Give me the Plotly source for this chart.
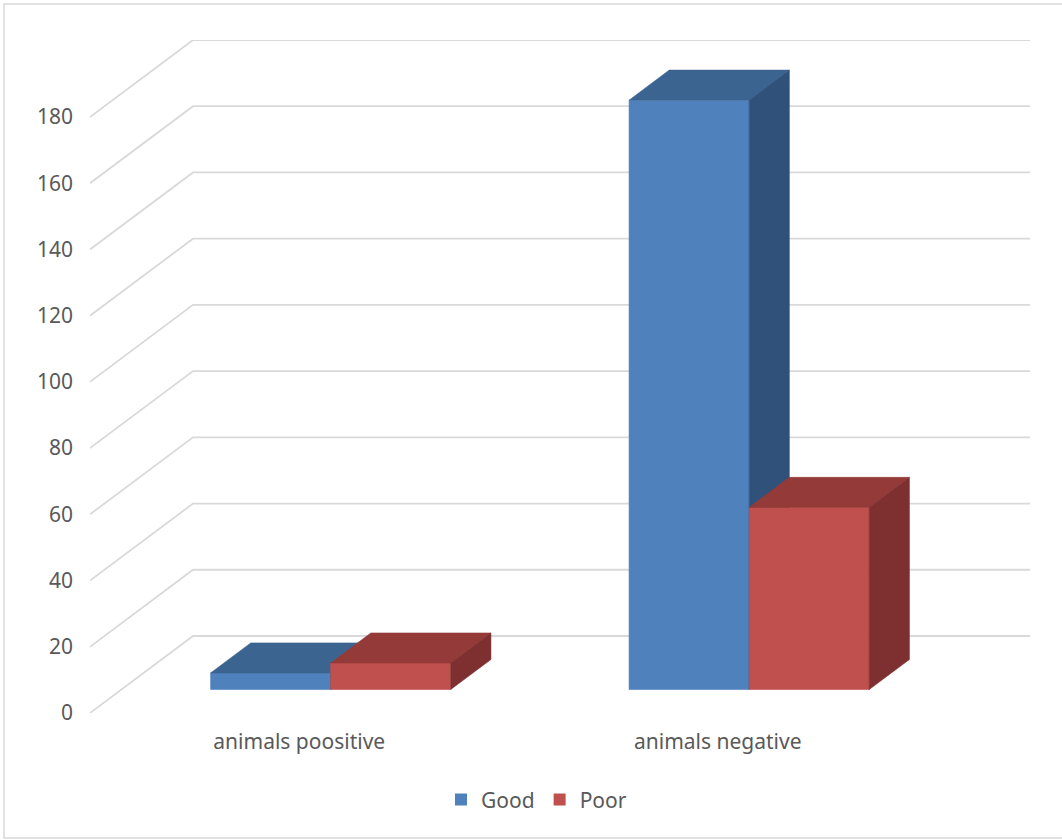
import plotly.graph_objects as go

# ---- data ----
categories = ["animals poositive", "animals negative"]
series_names = ["Good", "Poor"]
good_values = [5, 178]
poor_values = [8, 55]
y_ticks = [0, 20, 40, 60, 80, 100, 120, 140, 160, 180]

# ---- styling / projection constants ----
front_colors = {"Good": "#4F81BD", "Poor": "#C0504D"}
top_colors = {"Good": "#3C6490", "Poor": "#943A38"}
side_colors = {"Good": "#30527A", "Poor": "#7D302F"}
GRID = "#D9D9D9"
TEXT = "#595959"
FONT = "Noto Sans"

Y_MAX = 180
DX = 0.2462        # full depth offset in category units
DY = 23.26         # full depth offset in value units
F0 = 0.305         # bar front plane depth fraction
FD = 0.39          # bar depth fraction
BAR_W = 0.2869     # bar width (category units)
GAP = (1 - 2 * BAR_W) / 2

fig = go.Figure()

# back wall gridlines + left wall diagonals
gx, gy = [], []
for v in y_ticks:
    gx += [0, DX, 2 + DX, None]
    gy += [v, v + DY, v + DY, None]
fig.add_trace(go.Scatter(x=gx, y=gy, mode="lines", line=dict(color=GRID, width=1.8),
                         hoverinfo="skip", showlegend=False))


def add_bar(xl, v, name):
    x0 = xl + F0 * DX
    x1 = x0 + BAR_W
    b = F0 * DY
    t = b + v
    dx, dy = FD * DX, FD * DY
    faces = [
        ([x0, x1, x1, x0, x0], [b, b, t, t, b], front_colors[name]),
        ([x0, x1, x1 + dx, x0 + dx, x0], [t, t, t + dy, t + dy, t], top_colors[name]),
        ([x1, x1 + dx, x1 + dx, x1, x1], [b, b + dy, t + dy, t, b], side_colors[name]),
    ]
    for fx, fy, col in faces:
        fig.add_trace(go.Scatter(x=fx, y=fy, mode="lines", fill="toself", fillcolor=col,
                                 line=dict(color=col, width=0.6), hoverinfo="skip",
                                 showlegend=False))


for i, _ in enumerate(categories):
    add_bar(i + GAP, good_values[i], "Good")
    add_bar(i + GAP + BAR_W, poor_values[i], "Poor")

# legend entries
for name in series_names:
    fig.add_trace(go.Scatter(x=[None], y=[None], mode="markers", name=name,
                             marker=dict(symbol="square", size=12, color=front_colors[name])))

# border rectangle around the chart
fig.add_shape(type="rect", xref="paper", yref="paper",
              x0=-0.0915, x1=1.045, y0=-0.1857, y1=1.0535,
              line=dict(color="#D9D9D9", width=1.5), fillcolor="rgba(0,0,0,0)")

fig.update_layout(
    width=1062, height=840,
    margin=dict(l=90, r=32, t=40, b=127),
    paper_bgcolor="white", plot_bgcolor="white",
    font=dict(family=FONT, size=21, color=TEXT),
    xaxis=dict(range=[0, 2 + DX], tickvals=[0.5, 1.5], ticktext=categories,
               showgrid=False, zeroline=False, showline=False, ticks="",
               ticklabelstandoff=14, fixedrange=True),
    yaxis=dict(range=[0, Y_MAX + DY], tickvals=y_ticks, showgrid=False,
               zeroline=False, showline=False, ticks="", ticklabelstandoff=16,
               fixedrange=True),
    legend=dict(orientation="h", x=0.475, xanchor="center", y=-0.129, yanchor="middle",
                font=dict(size=21, color=TEXT), itemwidth=30),
    showlegend=True,
)

fig.write_html("out.html")
